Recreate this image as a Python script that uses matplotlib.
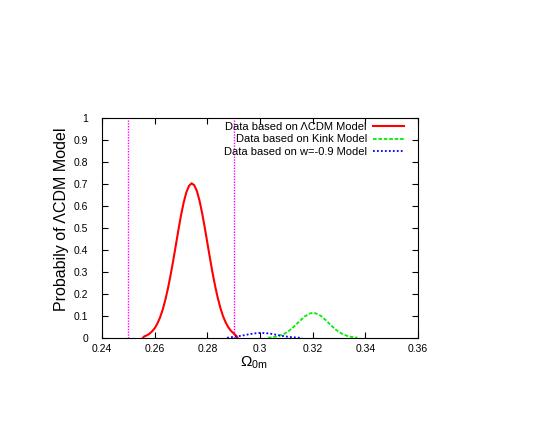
import matplotlib
matplotlib.use("Agg")
import matplotlib.pyplot as plt

plt.rcParams['font.family'] = ['Liberation Sans', 'DejaVu Sans']
plt.rcParams['mathtext.fontset'] = 'custom'
plt.rcParams['mathtext.rm'] = 'Liberation Sans'
plt.rcParams['mathtext.it'] = 'Liberation Sans:italic'
plt.rcParams['mathtext.bf'] = 'Liberation Sans:bold'

# ---- data ----
lcdm_x = [0.2555, 0.256, 0.257, 0.258, 0.259, 0.260, 0.261, 0.262, 0.263, 0.264,
          0.265, 0.266, 0.267, 0.268, 0.269, 0.270, 0.271, 0.272, 0.273, 0.274,
          0.275, 0.276, 0.277, 0.278, 0.279, 0.280, 0.281, 0.282, 0.283, 0.284,
          0.285, 0.286, 0.287, 0.288, 0.289, 0.290, 0.291, 0.2915]
lcdm_y = [0.000, 0.007, 0.012, 0.019, 0.030, 0.044, 0.065, 0.092, 0.127, 0.171,
          0.223, 0.283, 0.349, 0.419, 0.490, 0.557, 0.615, 0.661, 0.691, 0.703,
          0.695, 0.669, 0.626, 0.569, 0.504, 0.433, 0.363, 0.295, 0.234, 0.180,
          0.135, 0.098, 0.070, 0.048, 0.032, 0.021, 0.010, 0.000]

kink_x = [0.303, 0.305, 0.307, 0.309, 0.311, 0.313, 0.315, 0.317, 0.319, 0.320,
          0.321, 0.323, 0.325, 0.327, 0.329, 0.331, 0.333, 0.335, 0.337]
kink_y = [0.0014, 0.0037, 0.0086, 0.0177, 0.0324, 0.0528, 0.0763, 0.0980, 0.1116, 0.1140,
          0.1129, 0.1015, 0.0809, 0.0573, 0.0360, 0.0201, 0.0100, 0.0044, 0.0017]

w09_x = [0.2875, 0.289, 0.291, 0.293, 0.295, 0.297, 0.299, 0.3005, 0.302, 0.304,
         0.306, 0.308, 0.310, 0.312, 0.314, 0.316]
w09_y = [0.0010, 0.0037, 0.0066, 0.0105, 0.0151, 0.0194, 0.0223, 0.0230, 0.0223, 0.0194,
         0.0151, 0.0105, 0.0066, 0.0037, 0.0019, 0.0008]

vlines_x = [0.25, 0.29]

labels = ['Data based on \u039bCDM Model',
          'Data based on Kink Model',
          'Data based on w=-0.9 Model']

xticks = [0.24, 0.26, 0.28, 0.30, 0.32, 0.34, 0.36]
xtick_labels = ['0.24', '0.26', '0.28', '0.3', '0.32', '0.34', '0.36']
yticks = [0, 0.1, 0.2, 0.3, 0.4, 0.5, 0.6, 0.7, 0.8, 0.9, 1.0]
ytick_labels = ['0', '0.1', '0.2', '0.3', '0.4', '0.5', '0.6', '0.7', '0.8', '0.9', '1']

# ---- figure ----
fig = plt.figure(figsize=(5.5, 4.25), dpi=100)
ax = fig.add_axes([102/550, 87/425, 316/550, 220/425])

for xv in vlines_x:
    ax.axvline(xv, color='#ff00ff', lw=1.0, linestyle=(0, (1, 1)), zorder=1)

ax.plot(lcdm_x, lcdm_y, color='#ff0000', lw=1.5, label=labels[0], zorder=3)
ax.plot(kink_x, kink_y, color='#00ee00', lw=1.3, linestyle=(0, (2, 1)), label=labels[1], zorder=3)
ax.plot(w09_x, w09_y, color='#0000ff', lw=1.3, linestyle=(0, (1, 1.2)), label=labels[2], zorder=3)

ax.set_xlim(0.24, 0.36)
ax.set_ylim(0, 1)
ax.set_xticks(xticks)
ax.set_xticklabels(xtick_labels)
ax.set_yticks(yticks)
ax.set_yticklabels(ytick_labels)

ax.tick_params(axis='both', which='major', direction='in', length=4, width=0.8,
               top=True, right=True, labelsize=7.5, colors='black')
ax.tick_params(axis='x', pad=4.5)
ax.tick_params(axis='y', pad=10)
for sp in ax.spines.values():
    sp.set_linewidth(0.8)
    sp.set_color('black')

ax.set_ylabel('Probabily of \u039bCDM Model', fontsize=11.5)
ax.yaxis.label.set_va('center')
ax.yaxis.set_label_coords(-0.127, 0.54)

ax.set_xlabel(r'$\Omega_{\mathregular{0m}}$', fontsize=11)
ax.xaxis.label.set_va('baseline')
ax.xaxis.set_label_coords(0.481, -0.128)

leg = ax.legend(loc='upper right', bbox_to_anchor=(0.956, 0.982), frameon=False,
                markerfirst=False, fontsize=8, borderaxespad=0, borderpad=0,
                handlelength=2.8, handletextpad=0.55, labelspacing=0.22)

fig.savefig('out.png', dpi=100)
